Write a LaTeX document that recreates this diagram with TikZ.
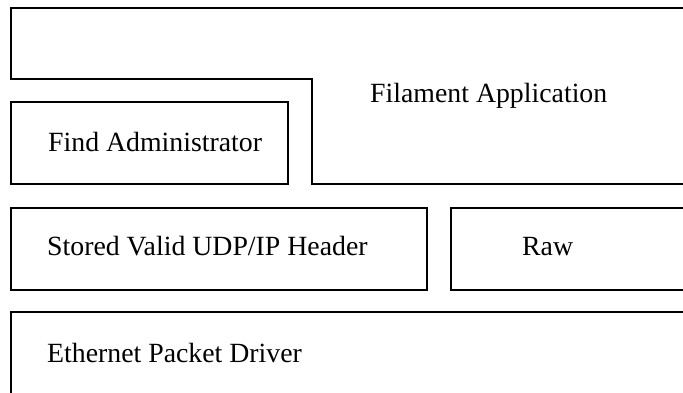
\documentclass[tikz,border=0pt]{standalone}
\usepackage{fontspec}
\setmainfont{Liberation Serif}
\begin{document}
\begin{tikzpicture}[x=1pt,y=-1pt,
  layer/.style={draw=black,line width=1.8pt,line join=miter},
  lbl/.style={anchor=base west,inner sep=0pt,font=\fontsize{27.8}{33}\selectfont}]
\useasboundingbox (0,0) rectangle (683,392);
\clip (0,0) rectangle (683,392);
\fill[white] (0,0) rectangle (683,392);
% Filament Application (L-shaped)
\draw[layer] (11,8) -- (700,8) -- (700,184) -- (312,184) -- (312,79) -- (11,79) -- cycle;
\node[lbl] (fa) at (370,102) {Filament Application};
% Find Administrator
\draw[layer] (11,102) rectangle (288,184);
\node[lbl] (fad) at (48,151) {Find Administrator};
% Stored Valid UDP/IP Header
\draw[layer] (11,208) rectangle (427,290);
\node[lbl] (st) at (47,255) {Stored Valid UDP/IP Header};
% Raw
\draw[layer] (451,208) rectangle (700,290);
\node[lbl] (raw) at (522,255) {Raw};
% Ethernet Packet Driver
\draw[layer] (11,312) rectangle (700,410);
\node[lbl] (eth) at (47,362) {Ethernet Packet Driver};
\end{tikzpicture}
\end{document}
